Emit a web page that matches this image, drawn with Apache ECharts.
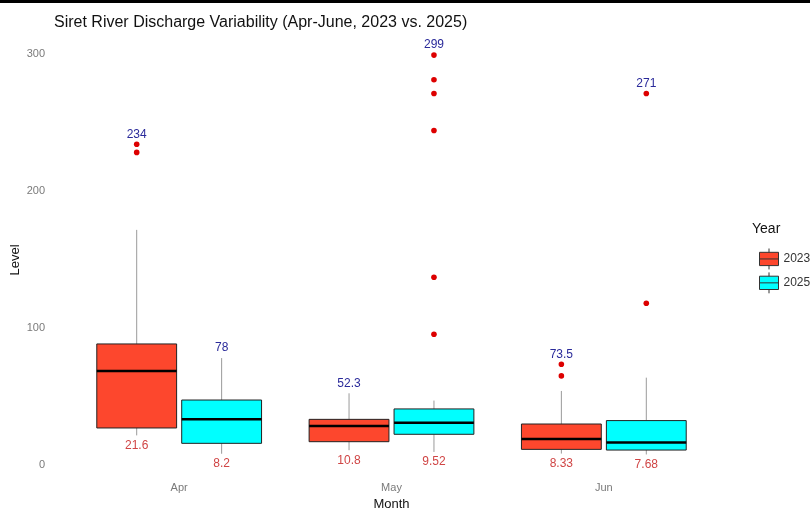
<!DOCTYPE html>
<html>
<head>
<meta charset="utf-8">
<script src="https://cdn.jsdelivr.net/npm/echarts@6/dist/echarts.min.js"></script>
<style>
  html, body { margin: 0; padding: 0; background: #fff; }
  #chart { width: 810px; height: 510px; }
</style>
</head>
<body>
<div id="chart"></div>
<script>
// months on x axis
var months = ['Apr', 'May', 'Jun'];
var years = ['2023', '2025'];
// [min, q1, median, q3, max] of whiskers
var stats2023 = [[21.6, 27, 68.6, 88.3, 171.5], [10.8, 17, 28.5, 33.3, 52.3], [8.33, 11.4, 19, 29.9, 54]];
var stats2025 = [[8.2, 15.8, 33.3, 47.4, 78], [9.52, 22.4, 30.9, 40.9, 47], [7.68, 10.9, 16.5, 32.4, 63.7]];
var outliers2023 = [[234, 228], [], [73.5, 65]];
var outliers2025 = [[], [299, 281, 271, 244, 137, 95.4], [271, 118]];
var yTicks = [0, 100, 200, 300];

var colors = { '2023': '#fd472d', '2025': '#00ffff' };

function fmt(v) {
  return String(+v.toPrecision(3));
}

function boxData(stats, outs) {
  return stats.map(function (s, i) {
    var top = Math.max.apply(null, [s[4]].concat(outs[i]));
    return [i, s[0], s[1], s[2], s[3], s[4], top];
  });
}

function outData(outs) {
  var arr = [];
  outs.forEach(function (list, i) {
    list.forEach(function (v) { arr.push([i, v]); });
  });
  return arr;
}

function boxRender(offsetFrac, color) {
  return function (params, api) {
    var cat = api.value(0);
    var band = api.size([1, 0])[0];
    var cx = api.coord([cat, 0])[0] + band * offsetFrac;
    var w = band * 0.376;
    var yMin = api.coord([cat, api.value(1)])[1];
    var yQ1 = api.coord([cat, api.value(2)])[1];
    var yMed = api.coord([cat, api.value(3)])[1];
    var yQ3 = api.coord([cat, api.value(4)])[1];
    var yMax = api.coord([cat, api.value(5)])[1];
    var yTop = api.coord([cat, api.value(6)])[1];
    return {
      type: 'group',
      children: [
        { type: 'line', shape: { x1: cx, y1: yMax, x2: cx, y2: yQ3 }, style: { stroke: '#9a9a9a', lineWidth: 1 } },
        { type: 'line', shape: { x1: cx, y1: yQ1, x2: cx, y2: yMin }, style: { stroke: '#9a9a9a', lineWidth: 1 } },
        { type: 'rect', shape: { x: cx - w / 2, y: yQ3, width: w, height: yQ1 - yQ3 }, style: { fill: color, stroke: '#222', lineWidth: 1 } },
        { type: 'line', shape: { x1: cx - w / 2, y1: yMed, x2: cx + w / 2, y2: yMed }, style: { stroke: '#000', lineWidth: 2.5 } },
        { type: 'text', style: { text: fmt(api.value(6)), x: cx, y: yTop - 4, align: 'center', verticalAlign: 'bottom', fill: '#2a2a9a', fontSize: 12, fontFamily: 'Liberation Sans, Arial' } },
        { type: 'text', style: { text: fmt(api.value(1)), x: cx, y: yMin + 4, align: 'center', verticalAlign: 'top', fill: '#d04545', fontSize: 12, fontFamily: 'Liberation Sans, Arial' } }
      ]
    };
  };
}

function outRender(offsetFrac) {
  return function (params, api) {
    var cat = api.value(0);
    var band = api.size([1, 0])[0];
    var p = api.coord([cat, api.value(1)]);
    return { type: 'circle', shape: { cx: p[0] + band * offsetFrac, cy: p[1], r: 2.8 }, style: { fill: '#dd0000' } };
  };
}

var chart = echarts.init(document.getElementById('chart'));
chart.setOption({
  animation: false,
  backgroundColor: '#fff',
  textStyle: { fontFamily: 'Liberation Sans, Arial' },
  title: {
    text: 'Siret River Discharge Variability (Apr-June, 2023 vs. 2025)',
    left: 49,
    top: 10,
    textStyle: { fontSize: 16, fontWeight: 'normal', color: '#111' }
  },
  graphic: [
    { type: 'rect', shape: { x: 0, y: 0, width: 810, height: 3 }, style: { fill: '#000' } },
    { type: 'text', left: 752, top: 222, style: { text: 'Year', fontSize: 14, fill: '#111', fontFamily: 'Liberation Sans, Arial' } },
    // y axis title
    { type: 'text', x: 15, y: 260, rotation: Math.PI / 2, style: { text: 'Level', align: 'center', verticalAlign: 'middle', fontSize: 13, fill: '#111', fontFamily: 'Liberation Sans, Arial' } }
  ],
  legend: {
    data: years,
    orient: 'vertical',
    left: 754,
    top: 243,
    itemGap: 2,
    itemWidth: 19,
    itemHeight: 22,
    icon: 'path://M0,4 L20,4 L20,18 L0,18 Z M0,11 L20,11 M10,0 L10,4 M10,18 L10,22',
    itemStyle: { borderColor: '#333', borderWidth: 1 },
    textStyle: { fontSize: 12, color: '#333' }
  },
  grid: { left: 73, right: 100, top: 40, bottom: 45, outerBoundsMode: 'none' },
  xAxis: {
    type: 'category',
    data: months,
    name: 'Month',
    nameLocation: 'middle',
    nameGap: 32,
    nameTextStyle: { fontSize: 13, color: '#111' },
    axisLine: { show: false },
    axisTick: { show: false },
    axisLabel: { color: '#7a7a7a', fontSize: 11, margin: 17 },
    splitLine: { show: false }
  },
  yAxis: {
    type: 'value',
    min: 0,
    max: 310,
    interval: 100,
    axisLine: { show: false },
    axisTick: { show: false },
    axisLabel: {
      color: '#7a7a7a', fontSize: 11, margin: 28,
      formatter: function (v) { return yTicks.indexOf(v) >= 0 ? String(v) : ''; }
    },
    splitLine: { show: false }
  },
  series: [
    {
      name: '2023', type: 'custom', itemStyle: { color: colors['2023'] },
      encode: { x: 0, y: [1, 2, 3, 4, 5, 6] },
      renderItem: boxRender(-0.2, colors['2023']),
      data: boxData(stats2023, outliers2023), z: 2
    },
    {
      name: '2025', type: 'custom', itemStyle: { color: colors['2025'] },
      encode: { x: 0, y: [1, 2, 3, 4, 5, 6] },
      renderItem: boxRender(0.2, colors['2025']),
      data: boxData(stats2025, outliers2025), z: 2
    },
    {
      name: 'out2023', type: 'custom', encode: { x: 0, y: 1 },
      renderItem: outRender(-0.2), data: outData(outliers2023), z: 3
    },
    {
      name: 'out2025', type: 'custom', encode: { x: 0, y: 1 },
      renderItem: outRender(0.2), data: outData(outliers2025), z: 3
    }
  ]
});
</script>
</body>
</html>
